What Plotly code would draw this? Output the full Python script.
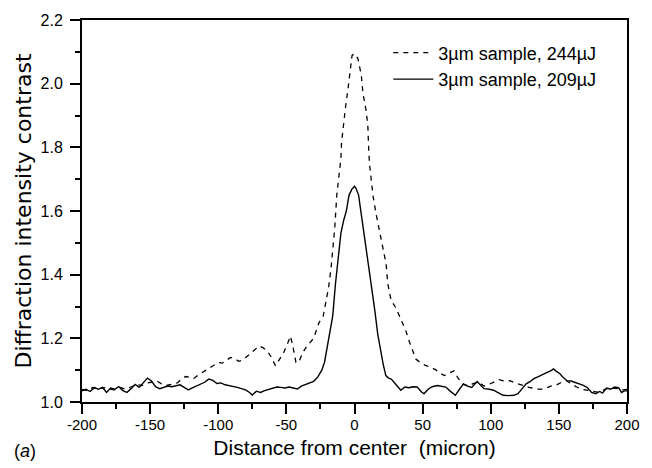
import plotly.graph_objects as go

# 209 uJ (solid)
x_209 = [-200, -197, -194, -191, -188, -185, -182, -179, -176, -173, -170, -167, -164, -161, -158, -155,
         -152, -149, -146, -143, -140, -137, -134, -131, -128, -125, -122, -119, -116, -113, -110, -107,
         -104, -101, -98, -95, -92, -89, -86, -83, -80, -77, -75, -72, -69, -66, -63, -60, -57, -54, -51,
         -48, -45, -42, -39, -36, -33, -30, -27, -24, -22, -20, -18, -16, -14, -12, -10, -8, -6, -4, -2,
         0, 1, 3, 5, 7, 9, 11, 13, 15, 17, 19, 21, 23, 25, 27, 29, 31, 34, 37, 40, 43, 46, 49, 51, 54, 57,
         61, 64, 67, 70, 74, 77, 80, 83, 86, 90, 93, 95, 99, 102, 106, 109, 113, 117, 120, 123, 126, 129,
         132, 135, 138, 141, 144, 146, 148, 151, 153, 156, 159, 162, 165, 168, 171, 174, 177, 180, 182,
         185, 188, 191, 194, 196, 198, 200]
y_209 = [1.035, 1.040, 1.033, 1.045, 1.040, 1.046, 1.030, 1.044, 1.040, 1.048, 1.036, 1.030, 1.042, 1.055,
         1.046, 1.060, 1.075, 1.066, 1.048, 1.042, 1.045, 1.050, 1.048, 1.052, 1.054, 1.046, 1.038, 1.044,
         1.050, 1.058, 1.062, 1.072, 1.068, 1.058, 1.060, 1.054, 1.052, 1.048, 1.046, 1.042, 1.038, 1.030,
         1.022, 1.034, 1.030, 1.036, 1.040, 1.044, 1.047, 1.046, 1.044, 1.047, 1.043, 1.041, 1.050, 1.055,
         1.060, 1.065, 1.078, 1.100, 1.125, 1.176, 1.215, 1.270, 1.370, 1.450, 1.530, 1.570, 1.600, 1.650,
         1.668, 1.678, 1.672, 1.650, 1.590, 1.530, 1.475, 1.420, 1.350, 1.285, 1.215, 1.165, 1.120, 1.083,
         1.075, 1.072, 1.062, 1.050, 1.037, 1.047, 1.045, 1.048, 1.047, 1.032, 1.026, 1.040, 1.048, 1.052,
         1.050, 1.047, 1.035, 1.021, 1.040, 1.057, 1.050, 1.046, 1.064, 1.052, 1.042, 1.040, 1.037, 1.028,
         1.021, 1.020, 1.021, 1.026, 1.040, 1.057, 1.065, 1.074, 1.080, 1.087, 1.092, 1.098, 1.104, 1.097,
         1.088, 1.078, 1.067, 1.066, 1.062, 1.056, 1.052, 1.045, 1.030, 1.026, 1.033, 1.028, 1.044, 1.040,
         1.047, 1.044, 1.030, 1.035, 1.035]

# 244 uJ (dashed)
x_244 = [-200, -196, -192, -188, -184, -180, -176, -172, -168, -164, -160, -156, -152, -148, -145, -142,
         -138, -134, -130, -127, -124, -121, -118, -115, -112, -109, -106, -103, -100, -97, -94, -91, -88,
         -85, -82, -79, -76, -73, -70, -67, -64, -61, -58, -55, -52, -49, -47, -45, -43, -41, -38, -35, -32,
         -30, -28, -26, -23, -21, -19, -17, -15.5, -14.5, -13, -11.5, -10, -9.5, -8, -6.5, -4.7, -3.5, -1.8,
         0, 2.5, 5, 6.2, 8.6, 9.8, 10.3, 11, 12.2, 13.5, 15.9, 18.4, 20.8, 23.2, 24.4, 26.8, 30.5, 33, 35.3,
         38, 40.2, 42.5, 45, 48, 52, 56, 60, 63, 66, 69, 73, 76, 80, 84, 87, 91, 95, 99, 103, 106, 110, 114,
         118, 121, 124, 128, 132, 136, 140, 144, 148, 152, 155.6, 159, 163, 167, 171, 175, 178, 182, 185,
         189, 194, 197, 200]
y_244 = [1.040, 1.035, 1.046, 1.042, 1.045, 1.040, 1.038, 1.046, 1.040, 1.048, 1.055, 1.052, 1.060, 1.063,
         1.066, 1.058, 1.052, 1.056, 1.060, 1.072, 1.080, 1.078, 1.074, 1.084, 1.092, 1.100, 1.110, 1.118,
         1.124, 1.122, 1.130, 1.140, 1.136, 1.128, 1.132, 1.144, 1.155, 1.165, 1.176, 1.170, 1.160, 1.140,
         1.114, 1.135, 1.155, 1.185, 1.207, 1.170, 1.125, 1.124, 1.155, 1.175, 1.190, 1.200, 1.225, 1.250,
         1.269, 1.310, 1.360, 1.430, 1.490, 1.547, 1.650, 1.713, 1.764, 1.816, 1.878, 1.929, 1.986, 2.027,
         2.089, 2.094, 2.079, 2.027, 1.970, 1.914, 1.867, 1.805, 1.749, 1.702, 1.650, 1.589, 1.537, 1.485,
         1.434, 1.372, 1.320, 1.295, 1.270, 1.250, 1.220, 1.190, 1.160, 1.135, 1.125, 1.115, 1.109, 1.100,
         1.090, 1.083, 1.090, 1.098, 1.075, 1.055, 1.050, 1.058, 1.062, 1.050, 1.056, 1.063, 1.070, 1.066,
         1.067, 1.060, 1.055, 1.052, 1.046, 1.042, 1.040, 1.043, 1.050, 1.053, 1.062, 1.067, 1.058, 1.047,
         1.040, 1.036, 1.032, 1.031, 1.036, 1.042, 1.044, 1.042, 1.038, 1.040]

names = ["3\u00b5m sample, 244\u00b5J", "3\u00b5m sample, 209\u00b5J"]

x_tick_values = [-200, -150, -100, -50, 0, 50, 100, 150, 200]
x_tick_labels = ["-200", "-150", "-100", "-50", "0", "50", "100", "150", "200"]
y_tick_values = [1.0, 1.2, 1.4, 1.6, 1.8, 2.0, 2.2]
y_tick_labels = ["1.0", "1.2", "1.4", "1.6", "1.8", "2.0", "2.2"]

FONT = "Liberation Sans, Arial, sans-serif"
WIDE = "DejaVu Sans, Liberation Sans, sans-serif"

fig = go.Figure()
fig.add_trace(go.Scatter(x=x_244, y=y_244, mode="lines", name=names[0],
                         line=dict(color="black", width=1.3, dash="5px,5px")))
fig.add_trace(go.Scatter(x=x_209, y=y_209, mode="lines", name=names[1],
                         line=dict(color="black", width=1.4)))

axis_common = dict(
    showline=True, linecolor="black", linewidth=2, mirror=True,
    ticks="outside", ticklen=10, tickwidth=1.5, tickcolor="black",
    showgrid=False, zeroline=False,
)

fig.update_layout(
    width=652, height=468,
    margin=dict(l=82, r=21, t=16, b=65),
    paper_bgcolor="white", plot_bgcolor="white",
    font=dict(family=FONT, color="black"),
    showlegend=True,
    legend=dict(x=0.562, y=0.962, xanchor="left", yanchor="top",
                bgcolor="rgba(0,0,0,0)", font=dict(family=FONT, size=18, color="black"),
                itemwidth=40, tracegroupgap=0),
    xaxis=dict(range=[-200, 200], tickmode="array", tickvals=x_tick_values, ticktext=x_tick_labels,
               tickfont=dict(family=FONT, size=15, color="black"), ticklabelstandoff=-2,
               minor=dict(dtick=25, tick0=-200, ticks="outside", ticklen=5, tickwidth=1.5,
                          tickcolor="black"),
               title=dict(text="Distance from center  (micron)",
                          font=dict(family=FONT, size=21, color="black"), standoff=8),
               **axis_common),
    yaxis=dict(range=[1.0, 2.2], tickmode="array", tickvals=y_tick_values, ticktext=y_tick_labels,
               tickfont=dict(family=FONT, size=16, color="black"), ticklabelstandoff=4,
               minor=dict(dtick=0.1, tick0=1.0, ticks="outside", ticklen=5, tickwidth=1.5,
                          tickcolor="black"),
               title=dict(text="Diffraction intensity contrast",
                          font=dict(family=WIDE, size=22, color="black"), standoff=3),
               **axis_common),
    annotations=[dict(text="(<i>a</i>)", xref="paper", yref="paper", x=-0.105, y=-0.127,
                      xanchor="center", yanchor="middle", showarrow=False,
                      font=dict(family=FONT, size=18, color="black"))],
)

fig.write_html("out.html")
